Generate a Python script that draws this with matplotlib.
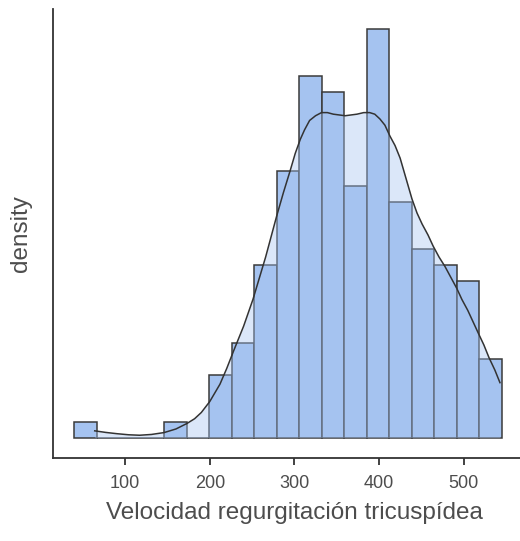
import numpy as np
import matplotlib
matplotlib.use("Agg")
import matplotlib.pyplot as plt

plt.rcParams['font.family'] = ['Liberation Sans', 'DejaVu Sans']

# histogram: bin edges and counts
bin_start = 39.5
bin_end = 545.0
n_bins = 19
counts = [1, 0, 0, 0, 1, 0, 4, 6, 11, 17, 23, 22, 16, 26, 15, 12, 11, 10, 5]

# density curve (in counts per bin, converted below)
kde_x = [64, 77, 90, 104, 117, 131, 146, 160, 173, 182, 190, 200, 212, 220, 228,
         240, 251, 266, 279, 287, 295, 301, 307, 312, 318, 325, 332, 339, 346, 353,
         360, 367, 374, 382, 389, 395, 401, 407, 413, 419, 425, 432, 439, 445, 451,
         458, 464, 471, 478, 485, 492, 498, 505, 511, 517, 524, 530, 537, 543]
kde_counts = [0.43, 0.33, 0.25, 0.18, 0.15, 0.2, 0.32, 0.55, 0.9, 1.2, 1.6, 2.3, 3.4, 4.4, 5.5,
              7.1, 8.8, 11.5, 14.1, 15.6, 17.0, 18.1, 19.0, 19.6, 20.2, 20.5, 20.7, 20.7, 20.6, 20.55,
              20.5, 20.55, 20.6, 20.7, 20.7, 20.6, 20.3, 19.9, 19.2, 18.6, 17.8, 16.5, 15.2, 14.3, 13.6,
              12.9, 12.2, 11.5, 10.9, 10.2, 9.5, 8.8, 8.1, 7.4, 6.7, 5.9, 5.1, 4.3, 3.5]

xticks = [100, 200, 300, 400, 500]
xlabel = 'Velocidad regurgitación tricuspídea'
ylabel = 'density'

bar_color = '#a5c3f0'
edge_color = '#3a3a3a'
text_color = '#4d4d4d'

edges = np.linspace(bin_start, bin_end, n_bins + 1)
width = edges[1] - edges[0]
total = sum(counts)
density = np.array(counts) / (total * width)
kde_y = np.array(kde_counts) / (total * width)

fig = plt.figure(figsize=(5.2, 5.41), dpi=100)
ax = fig.add_axes([0.102, 0.1534, 0.898, 0.830])

ax.bar(edges[:-1], density, width=width, align='edge', color=bar_color,
       edgecolor=edge_color, linewidth=1.1, zorder=2)
ax.fill_between(kde_x, kde_y, 0, color=bar_color, alpha=0.4, linewidth=0, zorder=3)
ax.plot(kde_x, kde_y, color='#333333', linewidth=1.1, zorder=4)

top = density.max()
ax.set_ylim(-0.05 * top, 1.05 * top)
ax.set_xlim(14.7, 566.7)

ax.set_xticks(xticks)
ax.set_xticklabels([str(t) for t in xticks])
ax.set_yticks([])
ax.tick_params(axis='x', length=5, width=1.3, color='#333333', labelsize=13,
               labelcolor=text_color, pad=7.5)

for s in ['top', 'right']:
    ax.spines[s].set_visible(False)
for s in ['left', 'bottom']:
    ax.spines[s].set_color('#333333')
    ax.spines[s].set_linewidth(1.3)

ax.set_xlabel(xlabel, fontsize=17.5, color=text_color)
ax.set_ylabel(ylabel, fontsize=17.5, color=text_color)
ax.xaxis.set_label_coords(0.517, -0.099)
ax.yaxis.set_label_coords(-0.045, 0.5)

fig.savefig('out.png', dpi=100)
